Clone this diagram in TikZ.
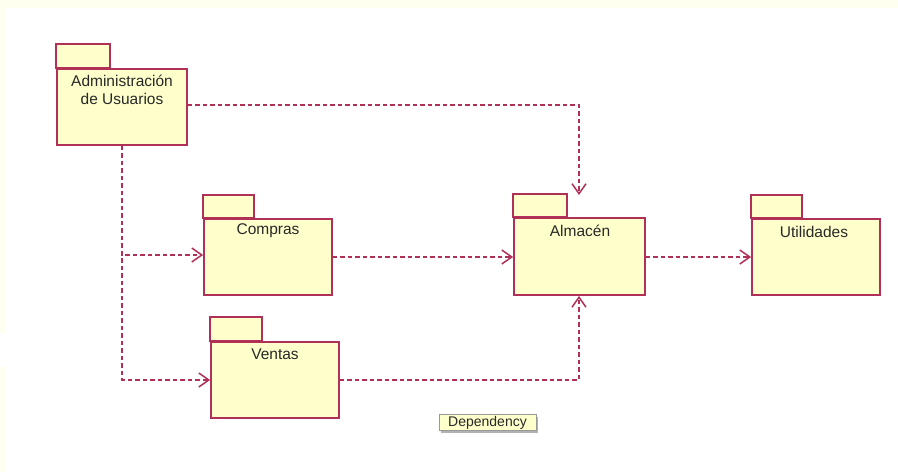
\documentclass[tikz,border=0pt]{standalone}
\usepackage{fontspec}
\setmainfont{Liberation Sans}
\usetikzlibrary{arrows.meta}
\definecolor{pkgline}{RGB}{176,48,88}
\definecolor{pkgfill}{RGB}{255,255,204}
\definecolor{cream}{RGB}{255,255,240}
\definecolor{txt}{RGB}{40,40,40}
\tikzset{
  pkgbody/.style={draw=pkgline, fill=pkgfill, line width=1.8pt, inner sep=0pt},
  pkgtab/.style={draw=pkgline, fill=pkgfill, line width=1.8pt},
  pkgname/.style={font=\fontsize{15.5}{18}\selectfont, text=txt, align=center, inner sep=0pt},
  dep/.style={draw=pkgline, line width=1.6pt, dash pattern=on 4.5pt off 3pt,
    -{Straight Barb[length=10pt,width=14pt,line width=1.5pt]}},
}
\begin{document}
\begin{tikzpicture}[x=1pt,y=-1pt]
\useasboundingbox (0,0) rectangle (898,472);
\fill[white] (0,0) rectangle (898,472);
\fill[cream] (0,0) rectangle (898,8);
\fill[cream] (0,0) rectangle (6,333);
\fill[cream] (0,367) rectangle (6,472);

% packages
\node[pkgbody, minimum width=130pt, minimum height=76pt] (adm) at (122,107) {};
\draw[pkgtab] (adm.north west) rectangle ++(54,-24);
\node[pkgname] (admt) at (122,90) {Administración\\de Usuarios};

\node[pkgbody, minimum width=128pt, minimum height=76pt] (comp) at (268,257) {};
\draw[pkgtab] (comp.north west) rectangle ++(51,-23);
\node[pkgname] (compt) at (268,231) {Compras};

\node[pkgbody, minimum width=128pt, minimum height=76pt] (vent) at (275,380) {};
\draw[pkgtab] (vent.north west) rectangle ++(52,-24);
\node[pkgname] (ventt) at (275,354) {Ventas};

\node[pkgbody, minimum width=131pt, minimum height=77pt] (alm) at (579.5,256.5) {};
\draw[pkgtab] (alm.north west) rectangle ++(54,-23);
\node[pkgname] (almt) at (580,231) {Almacén};

\node[pkgbody, minimum width=128pt, minimum height=76pt] (util) at (816,257) {};
\draw[pkgtab] (util.north west) rectangle ++(51,-23);
\node[pkgname] (utilt) at (814,232) {Utilidades};

% helper coordinates
\coordinate (almtop) at (579,195);
\coordinate (c1) at (579,105);

% dependencies
\draw[dep] (adm.east |- c1) -- (c1) -- (almtop);
\draw[dep] (adm.south) -- (122,255) -- (comp.west |- 0,255);
\draw[dep] (adm.south) -- (122,380) -- (vent.west);
\draw[dep] (comp.east |- 0,257) -- (alm.west |- 0,257);
\draw[dep] (alm.east |- 0,257) -- (util.west |- 0,257);
\draw[dep] (vent.east) -- (579,380) -- (alm.south -| 579,0);

% label
\node[fill=gray!60, minimum width=97pt, minimum height=16pt, inner sep=0pt] (shadow) at (489.5,424.5) {};
\node[draw=gray!80, fill=pkgfill, line width=1pt, minimum width=97pt, minimum height=16pt, inner sep=0pt,
  font=\fontsize{14}{16}\selectfont, text=txt] (deplbl) at (487.5,422.5) {Dependency};
\end{tikzpicture}
\end{document}
